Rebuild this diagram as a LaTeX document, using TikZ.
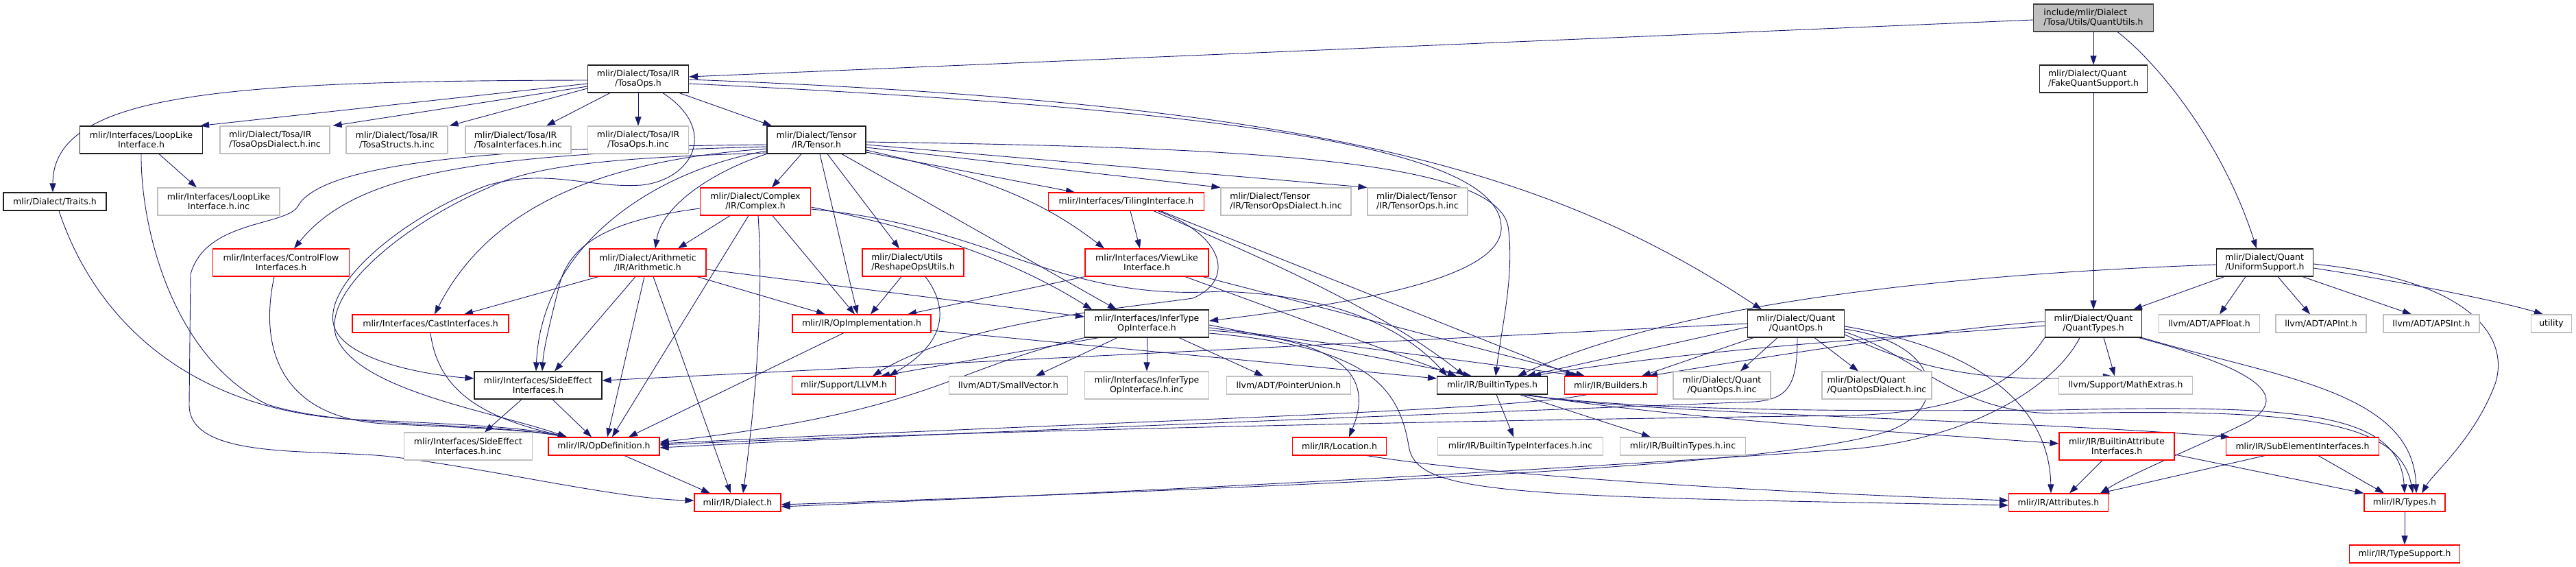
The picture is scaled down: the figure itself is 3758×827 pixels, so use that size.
\documentclass[tikz,border=0pt]{standalone}
\usepackage{fontspec}
\setmainfont{DejaVu Sans}
\usetikzlibrary{arrows.meta}
\definecolor{edgeblue}{RGB}{25,25,112}
\definecolor{incgray}{RGB}{191,191,191}
\definecolor{trunred}{RGB}{255,0,0}
\definecolor{darkbd}{RGB}{32,32,32}
\definecolor{rootbd}{RGB}{64,64,64}
\pgfdeclarelayer{bgl}
\pgfdeclarelayer{edgel}
\pgfsetlayers{bgl,edgel,main}
\begin{document}
\begin{tikzpicture}[x=1pt,y=-1pt,
  box/.style={draw, line width=1.15pt, fill=white, align=center, inner sep=0pt, font=\fontsize{12.5}{14}\selectfont, text=black},
  one/.style={minimum height=26},
  two/.style={minimum height=40},
  bk/.style={box, draw=darkbd},
  rd/.style={box, draw=trunred},
  gy/.style={box, draw=incgray},
  rt/.style={box, draw=rootbd, fill=incgray},
  lal/.style={align=left},
  e/.style={draw=edgeblue, line width=0.9pt, -{Triangle[length=13pt,width=9pt]}}]
\useasboundingbox (0,0) rectangle (3758,827);
\begin{pgfonlayer}{bgl}
\fill[white] (0,0) rectangle (3758,827);
\end{pgfonlayer}

% ---------------- nodes ----------------
\node[rt,two,lal,minimum width=175] (root) at (3054,26) {include/mlir/Dialect\\/Tosa/Utils/QuantUtils.h};
\node[bk,two,minimum width=147] (to) at (931,115) {mlir/Dialect/Tosa/IR\\/TosaOps.h};
\node[bk,two,lal,minimum width=157] (fq) at (3054,115) {mlir/Dialect/Quant\\/FakeQuantSupport.h};
\node[bk,two,minimum width=179] (ll) at (206,204) {mlir/Interfaces/LoopLike\\Interface.h};
\node[gy,two,lal,minimum width=160] (tod) at (401,204) {mlir/Dialect/Tosa/IR\\/TosaOpsDialect.h.inc};
\node[gy,two,minimum width=148] (tst) at (579,204) {mlir/Dialect/Tosa/IR\\/TosaStructs.h.inc};
\node[gy,two,lal,minimum width=154] (tin) at (756,204) {mlir/Dialect/Tosa/IR\\/TosaInterfaces.h.inc};
\node[gy,two,minimum width=147] (toi) at (931,204) {mlir/Dialect/Tosa/IR\\/TosaOps.h.inc};
\node[bk,two,minimum width=144] (ten) at (1191,204) {mlir/Dialect/Tensor\\/IR/Tensor.h};
\node[bk,one,minimum width=150] (tr) at (80,294) {mlir/Dialect/Traits.h};
\node[gy,two,minimum width=178] (lli) at (319,294) {mlir/Interfaces/LoopLike\\Interface.h.inc};
\node[rd,two,minimum width=161] (cx) at (1102,294) {mlir/Dialect/Complex\\/IR/Complex.h};
\node[rd,one,minimum width=227] (ti) at (1643,294) {mlir/Interfaces/TilingInterface.h};
\node[gy,two,lal,minimum width=190] (tdi) at (1876,294) {mlir/Dialect/Tensor\\/IR/TensorOpsDialect.h.inc};
\node[gy,two,lal,minimum width=146] (toinc) at (2068,294) {mlir/Dialect/Tensor\\/IR/TensorOps.h.inc};
\node[rd,two,minimum width=199] (cf) at (410,383) {mlir/Interfaces/ControlFlow\\Interfaces.h};
\node[rd,two,minimum width=170] (ar) at (945,383) {mlir/Dialect/Arithmetic\\/IR/Arithmetic.h};
\node[rd,two,lal,minimum width=148] (ro) at (1332,383) {mlir/Dialect/Utils\\/ReshapeOpsUtils.h};
\node[rd,two,minimum width=180] (vl) at (1673,383) {mlir/Interfaces/ViewLike\\Interface.h};
\node[bk,two,lal,minimum width=141] (us) at (3304,383) {mlir/Dialect/Quant\\/UniformSupport.h};
\node[rd,one,minimum width=228] (ci) at (628,472) {mlir/Interfaces/CastInterfaces.h};
\node[rd,one,minimum width=202] (oi) at (1257,472) {mlir/IR/OpImplementation.h};
\node[bk,two,minimum width=181] (it) at (1673,472) {mlir/Interfaces/InferType\\OpInterface.h};
\node[bk,two,minimum width=141] (qo) at (2620,472) {mlir/Dialect/Quant\\/QuantOps.h};
\node[bk,two,minimum width=141] (qt) at (3054,472) {mlir/Dialect/Quant\\/QuantTypes.h};
\node[gy,one,minimum width=147] (apf) at (3223,472) {llvm/ADT/APFloat.h};
\node[gy,one,minimum width=132] (api) at (3386,472) {llvm/ADT/APInt.h};
\node[gy,one,minimum width=140] (aps) at (3547,472) {llvm/ADT/APSInt.h};
\node[gy,one,minimum width=59] (ut) at (3722,472) {utility};
\node[bk,two,minimum width=186] (se) at (785,562) {mlir/Interfaces/SideEffect\\Interfaces.h};
\node[rd,one,minimum width=151] (llvm) at (1231,562) {mlir/Support/LLVM.h};
\node[gy,one,minimum width=173] (sv) at (1471,562) {llvm/ADT/SmallVector.h};
\node[gy,two,minimum width=181] (iti) at (1673,562) {mlir/Interfaces/InferType\\OpInterface.h.inc};
\node[gy,one,minimum width=181] (pu) at (1880,562) {llvm/ADT/PointerUnion.h};
\node[bk,one,minimum width=161] (bt) at (2177,562) {mlir/IR/BuiltinTypes.h};
\node[rd,one,minimum width=135] (bu) at (2350,562) {mlir/IR/Builders.h};
\node[gy,two,minimum width=142] (qoi) at (2512,562) {mlir/Dialect/Quant\\/QuantOps.h.inc};
\node[gy,two,lal,minimum width=160] (qod) at (2738,562) {mlir/Dialect/Quant\\/QuantOpsDialect.h.inc};
\node[gy,one,minimum width=195] (me) at (3101,562) {llvm/Support/MathExtras.h};
\node[gy,two,minimum width=187] (sei) at (683,651) {mlir/Interfaces/SideEffect\\Interfaces.h.inc};
\node[rd,one,minimum width=162] (od) at (881,651) {mlir/IR/OpDefinition.h};
\node[rd,one,minimum width=137] (lo) at (1954,651) {mlir/IR/Location.h};
\node[gy,one,minimum width=241] (bti) at (2218,651) {mlir/IR/BuiltinTypeInterfaces.h.inc};
\node[gy,one,minimum width=183] (btinc) at (2455,651) {mlir/IR/BuiltinTypes.h.inc};
\node[rd,two,minimum width=168] (bai) at (3088,651) {mlir/IR/BuiltinAttribute\\Interfaces.h};
\node[rd,one,minimum width=223] (sub) at (3359,651) {mlir/IR/SubElementInterfaces.h};
\node[rd,one,minimum width=126] (di) at (1076,733) {mlir/IR/Dialect.h};
\node[rd,one,minimum width=145] (at) at (3003,733) {mlir/IR/Attributes.h};
\node[rd,one,minimum width=118] (ty) at (3508,733) {mlir/IR/Types.h};
\node[rd,one,minimum width=161] (tsup) at (3508,808) {mlir/IR/TypeSupport.h};

% ---------------- edges ----------------
\begin{pgfonlayer}{edgel}
% root
\draw[e] ([yshift=-3]root.west) -- ([yshift=3]to.east);
\draw[e] (root.south) -- (fq.north);
\draw[e] ([xshift=35]root.south) .. controls (3140,85) and (3240,200) .. ([xshift=-12]us.north);
\draw[e] (fq.south) -- (qt.north);
% TosaOps
\draw[e] ([yshift=-2]to.west) .. controls (330,118) and (77,135) .. ([xshift=-3]tr.north);
\draw[e] ([yshift=-7]to.west) -- ([xshift=-4]ll.north east);
\draw[e] ([yshift=-11]to.west) -- ([xshift=4]tod.north east);
\draw[e] ([yshift=-14]to.west) -- ([xshift=2]tst.north east);
\draw[e] ([xshift=-41]to.south) -- ([xshift=41]tin.north);
\draw[e] (to.south) -- (toi.north);
\draw[e] ([xshift=60]to.south) -- ([xshift=-65]ten.north);
\draw[e] ([yshift=-1]to.east) .. controls (1900,150) and (2250,240) .. ([xshift=-50]qo.north);
\draw[e] ([yshift=-7]to.east) .. controls (1800,160) and (2185,215) .. (2190,330) .. controls (2195,410) and (1950,445) .. ([yshift=4]it.east);
\draw[e] ([xshift=36]to.south) .. controls (1050,190) and (1010,262) .. (936,270) .. controls (860,275) and (800,245) .. (712,270) .. controls (600,310) and (470,410) .. (487,475) .. controls (500,520) and (600,545) .. ([yshift=10]se.west);
% LoopLike, Traits, ControlFlow, Cast
\draw[e] ([xshift=26]ll.south) -- ([xshift=-32]lli.north);
\draw[e] (ll.south) .. controls (205,330) and (250,520) .. (390,590) .. controls (500,625) and (700,615) .. ([xshift=-54]od.north);
\draw[e] ([xshift=6]tr.south) .. controls (140,470) and (280,600) .. (520,612) .. controls (650,618) and (760,622) .. ([xshift=-54]od.north);
\draw[e] ([xshift=-10]cf.south) .. controls (375,520) and (420,610) .. (560,618) .. controls (680,624) and (760,626) .. ([xshift=-54]od.north);
\draw[e] (ci.south) .. controls (640,580) and (720,612) .. ([xshift=-54]od.north);
% Tensor
\draw[e] ([yshift=-10]ten.west) .. controls (700,225) and (520,250) .. ([xshift=19]cf.north);
\draw[e] ([yshift=-13]ten.west) .. controls (900,232) and (720,290) .. ([xshift=6]ci.north);
\draw[e] ([yshift=-16]ten.west) .. controls (950,250) and (790,360) .. ([xshift=-3]se.north);
\draw[e] ([yshift=-19]ten.west) .. controls (900,230) and (780,240) .. (712,274) .. controls (600,322) and (470,420) .. (490,490) .. controls (520,570) and (720,600) .. ([xshift=-54]od.north);
\draw[e] ([yshift=-7]ten.west) .. controls (700,215) and (470,240) .. (435,300) .. controls (420,330) and (300,320) .. (278,400) -- (276,590) .. controls (275,670) and (450,655) .. (560,665) .. controls (700,680) and (900,728) .. ([yshift=3]di.west);
\draw[e] (ten.south west) .. controls (1040,250) and (965,300) .. ([xshift=11]ar.north);
\draw[e] ([xshift=-22]ten.south) -- ([xshift=24]cx.north);
\draw[e] ([xshift=5]ten.south) -- ([xshift=-6]oi.north);
\draw[e] ([xshift=16]ten.south) -- ([xshift=-20]ro.north);
\draw[e] ([xshift=37]ten.south) -- ([xshift=-44]it.north);
\draw[e] ([yshift=-18]ten.east) -- ([xshift=-75]ti.north);
\draw[e] ([yshift=-15]ten.east) .. controls (1450,260) and (1530,300) .. ([xshift=-62]vl.north);
\draw[e] ([yshift=-11]ten.east) -- (tdi.north west);
\draw[e] ([yshift=-7]ten.east) -- (toinc.north west);
\draw[e] ([yshift=-3]ten.east) .. controls (1800,215) and (2180,230) .. (2200,330) .. controls (2210,400) and (2190,480) .. ([xshift=5]bt.north);
% Complex
\draw[e] ([xshift=-37]cx.south) -- ([xshift=44]ar.north);
\draw[e] ([yshift=-10]cx.west) .. controls (900,320) and (830,350) .. (815,420) .. controls (800,480) and (793,510) .. ([xshift=6]se.north);
\draw[e] ([xshift=-10]cx.south) -- ([xshift=12]od.north);
\draw[e] ([xshift=4]cx.south) .. controls (1115,450) and (1100,600) .. ([xshift=8]di.north);
\draw[e] ([xshift=25]cx.south) -- ([xshift=-10]oi.north);
\draw[e] ([yshift=-8]cx.east) .. controls (1350,335) and (1480,380) .. ([xshift=-80]it.north);
\draw[e] ([yshift=-11]cx.east) .. controls (1450,330) and (1540,440) .. (1780,425) .. controls (1950,430) and (2050,480) .. ([xshift=-66]bt.north);
% Arithmetic
\draw[e] ([xshift=-72]ar.south) -- ([xshift=49]ci.north);
\draw[e] ([xshift=-18]ar.south) -- ([xshift=24]se.north);
\draw[e] ([xshift=-5]ar.south) -- ([xshift=5]od.north);
\draw[e] ([xshift=8]ar.south) -- ([xshift=-10]di.north);
\draw[e] ([xshift=72]ar.south) -- ([xshift=-53]oi.north);
\draw[e] ([yshift=-10]ar.east) -- ([yshift=10]it.west);
% ReshapeOpsUtils
\draw[e] ([xshift=-17]ro.south) -- ([xshift=13]oi.north);
\draw[e] ([xshift=18]ro.south) .. controls (1385,450) and (1380,500) .. ([xshift=66]llvm.north);
% TilingInterface
\draw[e] ([xshift=6]ti.south) -- ([xshift=-10]vl.north);
\draw[e] ([xshift=40]ti.south) .. controls (1800,360) and (2000,440) .. ([xshift=-40]bt.north);
\draw[e] ([xshift=50]ti.south) -- ([xshift=-53]bu.north);
\draw[e] ([xshift=46]ti.south) .. controls (1790,345) and (1800,410) .. (1740,435) .. controls (1650,448) and (1400,470) .. ([xshift=42]llvm.north);
% ViewLike
\draw[e] (vl.south west) -- ([xshift=67]oi.north);
\draw[e] ([xshift=56]vl.south) -- ([xshift=-52]bt.north);
\draw[e] ([xshift=82]vl.south) -- ([xshift=-38]bu.north);
% InferTypeOpInterface
\draw[e] (it.south west) .. controls (1380,540) and (1360,600) .. ([yshift=6]od.east);
\draw[e] ([xshift=-70]it.south) -- ([xshift=54]llvm.north);
\draw[e] ([xshift=-43]it.south) -- ([xshift=40]sv.north);
\draw[e] (it.south) -- (iti.north);
\draw[e] ([xshift=47]it.south) -- ([xshift=-37]pu.north);
\draw[e] ([yshift=-2]it.east) -- ([xshift=-30]bt.north);
\draw[e] ([yshift=-6]it.east) -- ([xshift=-45]bu.north);
\draw[e] ([yshift=-10]it.east) .. controls (1980,495) and (2000,560) .. ([xshift=14]lo.north);
\draw[e] ([yshift=-14]it.east) .. controls (1990,505) and (2040,560) .. (2055,650) .. controls (2065,722) and (2200,724) .. ([yshift=-4]at.west);
% OpImplementation, OpDefinition, SideEffect
\draw[e] ([xshift=-26]oi.south) -- ([xshift=36]od.north);
\draw[e] ([yshift=-10]oi.east) -- ([yshift=10]bt.west);
\draw[e] ([xshift=30]od.south) -- ([xshift=-40]di.north);
\draw[e] ([xshift=-24]se.south) -- ([xshift=24]sei.north);
\draw[e] ([xshift=21]se.south) -- ([xshift=-18]od.north);
% QuantOps
\draw[e] ([xshift=-27]qo.south) -- ([xshift=27]qoi.north);
\draw[e] ([xshift=27]qo.south) -- ([xshift=-27]qod.north);
\draw[e] ([yshift=-5]qo.west) -- ([xshift=50]bt.north);
\draw[e] ([xshift=-62]qo.south) -- ([xshift=45]bu.north);
\draw[e] (qo.west) -- ([yshift=7]se.east);
\draw[e] ([xshift=2]qo.south) .. controls (2622,560) and (2610,582) .. (2560,586) .. controls (2200,600) and (1400,630) .. ([yshift=-2]od.east);
\draw[e] ([yshift=-8]qo.east) .. controls (2830,500) and (2845,590) .. (2762,626) .. controls (2650,670) and (2200,700) .. ([yshift=-3]di.east);
\draw[e] ([yshift=-4]qo.east) .. controls (2900,510) and (2990,600) .. ([xshift=-11]at.north);
\draw[e] ([yshift=-12]qo.east) .. controls (2800,520) and (2850,602) .. (3000,603) .. controls (3350,596) and (3500,612) .. ([xshift=12]ty.north);
\draw[e] ([yshift=-16]qo.east) .. controls (2800,540) and (2900,560) .. ([xshift=-20]me.north);
% QuantTypes
\draw[e] ([xshift=15]qt.south) -- ([xshift=-16]me.north);
\draw[e] ([yshift=3]qt.west) .. controls (2880,476) and (2700,500) .. ([xshift=55]bu.north);
\draw[e] ([yshift=-3]qt.west) .. controls (2880,484) and (2500,505) .. ([xshift=58]bt.north);
\draw[e] (qt.south west) .. controls (2950,540) and (2900,600) .. (2700,606) .. controls (2200,612) and (1400,628) .. ([yshift=2]od.east);
\draw[e] ([xshift=-20]qt.south) .. controls (3000,560) and (2880,640) .. (2700,655) .. controls (2200,690) and (1600,720) .. ([yshift=-6]di.east);
\draw[e] (qt.south east) .. controls (3320,550) and (3520,570) .. ([xshift=17]ty.north);
\draw[e] ([xshift=66]qt.south) .. controls (3300,540) and (3340,580) .. (3280,615) .. controls (3210,650) and (3110,690) .. ([xshift=61]at.north);
% UniformSupport
\draw[e] ([xshift=-59]us.south) -- ([xshift=58]qt.north);
\draw[e] ([xshift=-28]us.south) -- ([xshift=15]apf.north);
\draw[e] ([xshift=19]us.south) -- ([xshift=-16]api.north);
\draw[e] ([xshift=55]us.south) -- ([xshift=-29]aps.north);
\draw[e] ([yshift=-8]us.east) .. controls (3500,410) and (3650,440) .. ([xshift=-12]ut.north);
\draw[e] ([yshift=-2]us.east) .. controls (3620,410) and (3660,500) .. (3640,560) .. controls (3610,640) and (3550,690) .. ([xshift=25]ty.north);
\draw[e] ([yshift=-3]us.west) .. controls (2850,400) and (2450,440) .. ([xshift=37]bt.north);
% BuiltinTypes and below
\draw[e] ([xshift=6]bt.south) -- ([xshift=-10]bti.north);
\draw[e] ([xshift=40]bt.south) -- ([xshift=-47]btinc.north);
\draw[e] ([xshift=50]bt.south) .. controls (2450,612) and (2800,632) .. ([yshift=4]bai.west);
\draw[e] ([xshift=46]bt.south) .. controls (2400,605) and (2900,610) .. ([xshift=-106]sub.north);
\draw[e] ([xshift=43]bt.south) .. controls (2400,600) and (2700,600) .. (3000,598) .. controls (3350,590) and (3500,600) .. (ty.north);
\draw[e] ([xshift=-21]bai.south) -- ([xshift=16]at.north);
\draw[e] ([yshift=-12]bai.east) -- (ty.north west);
\draw[e] ([xshift=-55]sub.south) -- ([xshift=61]at.north);
\draw[e] ([xshift=23]sub.south) -- ([xshift=-30]ty.north);
\draw[e] (ty.south) -- (tsup.north);
\draw[e] ([xshift=-35]bu.south) .. controls (2200,600) and (1600,615) .. ([yshift=4]od.east);
\draw[e] ([xshift=40]lo.south) .. controls (2150,690) and (2500,715) .. ([yshift=3]at.west);
\end{pgfonlayer}
\end{tikzpicture}
\end{document}
